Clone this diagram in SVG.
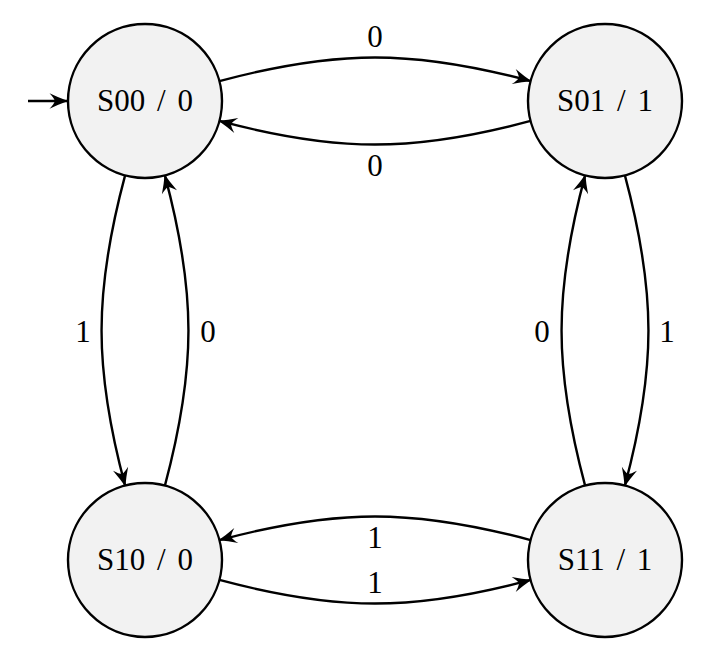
<svg xmlns="http://www.w3.org/2000/svg" width="703" height="664" viewBox="0 0 703 664">
<style>
.node circle{fill:#f2f2f2;stroke:#000;stroke-width:2.4}
.node text,.lbl{font-family:"Liberation Serif","Times New Roman",serif;font-size:31px;fill:#000;text-anchor:middle}
.node text{word-spacing:4px}
.edge{fill:none;stroke:#000;stroke-width:2.4;marker-end:url(#ah)}
</style>
<defs>
<marker id="ah" markerUnits="userSpaceOnUse" markerWidth="20" markerHeight="18" refX="18" refY="9" orient="auto" overflow="visible">
<path d="M19,9 Q10,5.8 0.5,1.2 Q5,6 6,9 Q5,12 0.5,16.8 Q10,12.2 19,9 Z" fill="#000"/>
</marker>
</defs>
<rect width="703" height="664" fill="#fff"/>
<g id="connectors">
<path class="edge" d="M28,101 L67,101"/>
<path class="edge" d="M219.4,81.1 C337.1,49.6 412.9,49.6 530.6,81.1"/>
<path class="edge" d="M530.6,120.9 C412.9,152.4 337.1,152.4 219.4,120.9"/>
<path class="edge" d="M530.6,540.1 C412.9,508.6 337.1,508.6 219.4,540.1"/>
<path class="edge" d="M219.4,579.9 C337.1,611.4 412.9,611.4 530.6,579.9"/>
<path class="edge" d="M125.1,175.4 C93.7,292.7 93.7,368.3 125.1,485.6"/>
<path class="edge" d="M164.9,485.6 C196.3,368.3 196.3,292.7 164.9,175.4"/>
<path class="edge" d="M624.9,175.4 C656.3,292.7 656.3,368.3 624.9,485.6"/>
<path class="edge" d="M585.1,485.6 C553.7,368.3 553.7,292.7 585.1,175.4"/>
<text class="lbl" x="375" y="47">0</text>
<text class="lbl" x="375" y="176">0</text>
<text class="lbl" x="375" y="548">1</text>
<text class="lbl" x="375" y="593">1</text>
<text class="lbl" x="83" y="342">1</text>
<text class="lbl" x="208" y="342">0</text>
<text class="lbl" x="542" y="342">0</text>
<text class="lbl" x="667" y="342">1</text>
</g>
<g id="S00" class="node"><circle cx="145" cy="101" r="77"/><text x="145" y="111">S00 / 0</text></g>
<g id="S01" class="node"><circle cx="605" cy="101" r="77"/><text x="605" y="111">S01 / 1</text></g>
<g id="S10" class="node"><circle cx="145" cy="560" r="77"/><text x="145" y="570">S10 / 0</text></g>
<g id="S11" class="node"><circle cx="605" cy="560" r="77"/><text x="605" y="570">S11 / 1</text></g>
</svg>
